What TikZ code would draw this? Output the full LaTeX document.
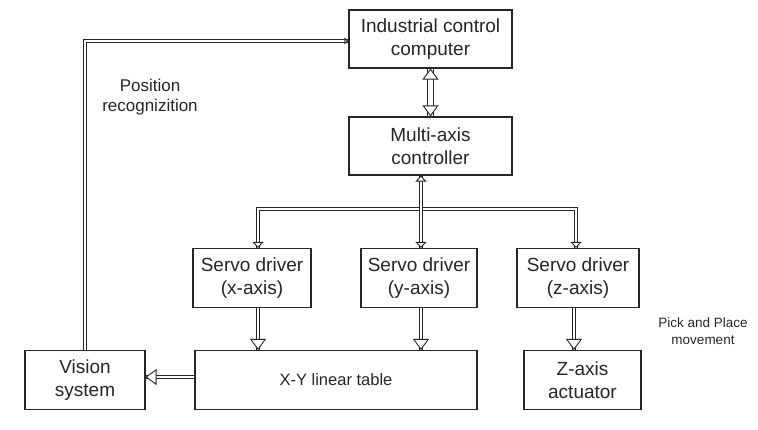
\documentclass[tikz,border=0pt]{standalone}
\usepackage{fontspec}
\setmainfont{Liberation Sans}
\usetikzlibrary{arrows.meta,calc}
\definecolor{scanink}{HTML}{262626}

\begin{document}
\begin{tikzpicture}[x=1pt, y=-1pt,
  blockbox/.style={draw=scanink, line width=1.1pt, fill=white, align=center,
    inner sep=2pt, font=\fontsize{19}{23}\selectfont, text=scanink},
  dbl/.style={draw=scanink, double=white, double distance=2.6pt, line width=0.9pt},
  widedbl/.style={dbl, double distance=4.6pt},
  bigtip/.style={-{Triangle[fill=white, length=11pt, width=16pt]}, draw=scanink, line width=0.9pt},
  midtip/.style={-{Triangle[fill=white, length=6pt, width=11pt]}, draw=scanink, line width=0.9pt},
  smalltip/.style={-{Triangle[fill=white, length=4pt, width=6.5pt]}, draw=scanink, line width=0.9pt},
  note/.style={align=center, text=scanink}]
  \useasboundingbox (0,0) rectangle (758,429);
  % blocks
  \node[blockbox, minimum width=163pt, minimum height=58pt] (icc) at (430.5,39) {Industrial control\\computer};
  \node[blockbox, minimum width=163pt, minimum height=58pt] (mac) at (430.5,146) {Multi-axis\\controller};
  \node[blockbox, minimum width=118pt, minimum height=59pt] (sx) at (252,278) {Servo driver\\(x-axis)};
  \node[blockbox, minimum width=116pt, minimum height=59pt] (sy) at (419,278) {Servo driver\\(y-axis)};
  \node[blockbox, minimum width=122pt, minimum height=59pt] (sz) at (578,278) {Servo driver\\(z-axis)};
  \node[blockbox, minimum width=120pt, minimum height=59pt] (vis) at (85,380) {Vision\\system};
  \node[blockbox, minimum width=282pt, minimum height=59pt, font=\fontsize{16.5}{20}\selectfont] (xy) at (336,380) {X-Y linear table};
  \node[blockbox, minimum width=117pt, minimum height=59pt] (zact) at (582.5,380) {Z-axis\\actuator};
  % labels
  \node[note, font=\fontsize{17}{20}\selectfont] (posnote) at (150,97) {Position\\recognizition};
  \node[note, font=\fontsize{13.5}{17}\selectfont] (picknote) at (703,331) {Pick and Place\\movement};
  % columns of the links
  \coordinate (xcol) at (258,0);
  \coordinate (ycol) at (421,0);
  \coordinate (zcol) at (576,0);
  \coordinate (zlow) at (574,0);
  \coordinate (bus) at (430,209);
  \coordinate (linkrow) at (0,377);
  % computer <-> controller
  \draw[widedbl] (icc) -- (mac);
  \draw[bigtip] ($(icc.south)+(0,1)$) -- (icc.south);
  \draw[bigtip] ($(mac.north)+(0,-1)$) -- (mac.north);
  % controller -> servo drivers
  \draw[dbl] (xcol |- sx.north) |- (bus) -| (zcol |- sz.north);
  \draw[dbl] (ycol |- mac.south) -- (ycol |- sy.north);
  \draw[midtip] ($(ycol |- mac.south)+(0,1)$) -- (ycol |- mac.south);
  \draw[midtip] ($(xcol |- sx.north)+(0,-1)$) -- (xcol |- sx.north);
  \draw[midtip] ($(ycol |- sy.north)+(0,-1)$) -- (ycol |- sy.north);
  \draw[midtip] ($(zcol |- sz.north)+(0,-1)$) -- (zcol |- sz.north);
  % servo drivers -> table and actuator
  \draw[dbl] (xcol |- sx.south) -- (xcol |- xy.north);
  \draw[dbl] (ycol |- sy.south) -- (ycol |- xy.north);
  \draw[dbl] (zlow |- sz.south) -- (zlow |- zact.north);
  \draw[bigtip] ($(xcol |- xy.north)+(0,-1)$) -- (xcol |- xy.north);
  \draw[bigtip] ($(ycol |- xy.north)+(0,-1)$) -- (ycol |- xy.north);
  \draw[bigtip] ($(zlow |- zact.north)+(0,-1)$) -- (zlow |- zact.north);
  % table -> vision -> computer
  \draw[dbl] (xy.west |- linkrow) -- (vis.east |- linkrow);
  \draw[bigtip] ($(vis.east |- linkrow)+(1,0)$) -- (vis.east |- linkrow);
  \draw[dbl] (vis.north) |- ($(icc.west)+(0,2)$);
  \draw[smalltip] ($(icc.west)+(-1,2)$) -- ($(icc.west)+(0,2)$);
\end{tikzpicture}
\end{document}
